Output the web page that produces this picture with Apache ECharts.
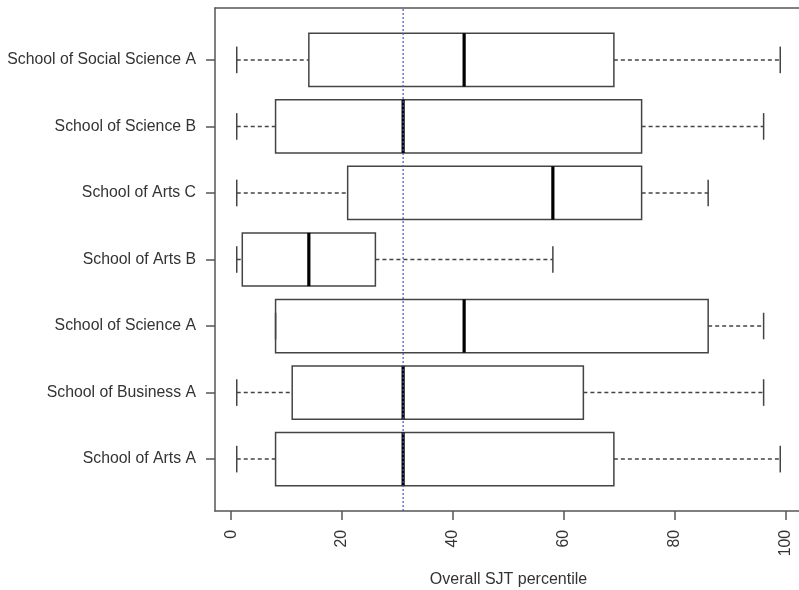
<!DOCTYPE html>
<html><head><meta charset="utf-8">
<script src="https://cdn.jsdelivr.net/npm/echarts@6/dist/echarts.min.js"></script>
<style>html,body{margin:0;background:#fff}#c{width:799px;height:590px}</style>
</head><body><div id="c"></div>
<script>
const categories = ['School of Arts A','School of Business A','School of Science A','School of Arts B','School of Arts C','School of Science B','School of Social Science A'];
const whiskerLow  = [1, 1, 8, 1, 1, 1, 1];
const q1          = [8, 11, 8, 2, 21, 8, 14];
const median      = [31, 31, 42, 14, 58, 31, 42];
const q3          = [69, 63.5, 86, 26, 74, 74, 69];
const whiskerHigh = [99, 96, 96, 58, 86, 96, 99];
const xTicks = [0, 20, 40, 60, 80, 100];
const referenceValue = 31;

const yPos = categories.map((c, i) => i + 1);
const boxData = categories.map((c, i) => [yPos[i], whiskerLow[i], q1[i], median[i], q3[i], whiskerHigh[i]]);

const FONT = "'Liberation Sans', Arial, sans-serif";
const INK = '#444';
const FRAME = {show: true, onZero: false, lineStyle: {color: '#555', width: 1.5}};

const chart = echarts.init(document.getElementById('c'), null, {renderer: 'canvas'});
chart.setOption({
  animation: false,
  backgroundColor: '#fff',
  grid: {left: 215, top: 8, width: 587, height: 503, outerBoundsMode: 'none', containLabel: false, show: false},
  xAxis: [{
    type: 'value', min: -2.92, max: 102.92, position: 'bottom',
    axisLine: FRAME,
    splitLine: {show: false},
    axisTick: {show: true, customValues: xTicks, length: 9, lineStyle: {color: '#555', width: 1.5}},
    axisLabel: {customValues: xTicks, rotate: 90, margin: 19, fontSize: 15.8, color: '#333', fontFamily: FONT},
    name: 'Overall SJT percentile', nameLocation: 'middle', nameGap: 61, nameMoveOverlap: false,
    nameTextStyle: {fontSize: 16, color: '#333', fontFamily: FONT}
  }, {
    type: 'value', min: -2.92, max: 102.92, position: 'top',
    axisLine: FRAME, axisTick: {show: false}, axisLabel: {show: false}, splitLine: {show: false}
  }],
  yAxis: {
    type: 'value', min: 0.22, max: 7.78,
    axisLine: FRAME,
    splitLine: {show: false},
    axisTick: {show: true, customValues: yPos, length: 9, lineStyle: {color: '#555', width: 1.5}},
    axisLabel: {customValues: yPos, margin: 19, fontSize: 15.8, color: '#333', fontFamily: FONT,
      formatter: v => categories[Math.round(v) - 1] || ''}
  },
  series: [
    {
      type: 'custom',
      data: boxData,
      encode: {x: [1, 2, 3, 4, 5], y: 0},
      renderItem: function (params, api) {
        const y = api.value(0);
        const lo = api.coord([api.value(1), y]);
        const a = api.coord([api.value(2), y]);
        const m = api.coord([api.value(3), y]);
        const b = api.coord([api.value(4), y]);
        const hi = api.coord([api.value(5), y]);
        const h = api.size([0, 0.8])[1];
        const half = h / 2, cap = h / 4;
        const cy = a[1];
        const lineStyle = {stroke: INK, lineWidth: 1.5, fill: null};
        const dashStyle = {stroke: INK, lineWidth: 1.5, lineDash: [4, 3], fill: null};
        return {
          type: 'group',
          children: [
            {type: 'line', shape: {x1: lo[0], y1: cy, x2: a[0], y2: cy}, style: dashStyle},
            {type: 'line', shape: {x1: b[0], y1: cy, x2: hi[0], y2: cy}, style: dashStyle},
            {type: 'line', shape: {x1: lo[0], y1: cy - cap, x2: lo[0], y2: cy + cap}, style: lineStyle},
            {type: 'line', shape: {x1: hi[0], y1: cy - cap, x2: hi[0], y2: cy + cap}, style: lineStyle},
            {type: 'rect', shape: {x: a[0], y: cy - half, width: b[0] - a[0], height: h}, style: lineStyle},
            {type: 'line', shape: {x1: m[0], y1: cy - half, x2: m[0], y2: cy + half}, style: {stroke: '#000', lineWidth: 3.2}}
          ]
        };
      }
    },
    {
      type: 'line',
      data: [[referenceValue, 0.22], [referenceValue, 7.78]],
      symbol: 'none',
      silent: true,
      z: 5,
      lineStyle: {color: '#4455cc', width: 1.2, type: [2, 2]}
    }
  ]
});
</script>
</body></html>
